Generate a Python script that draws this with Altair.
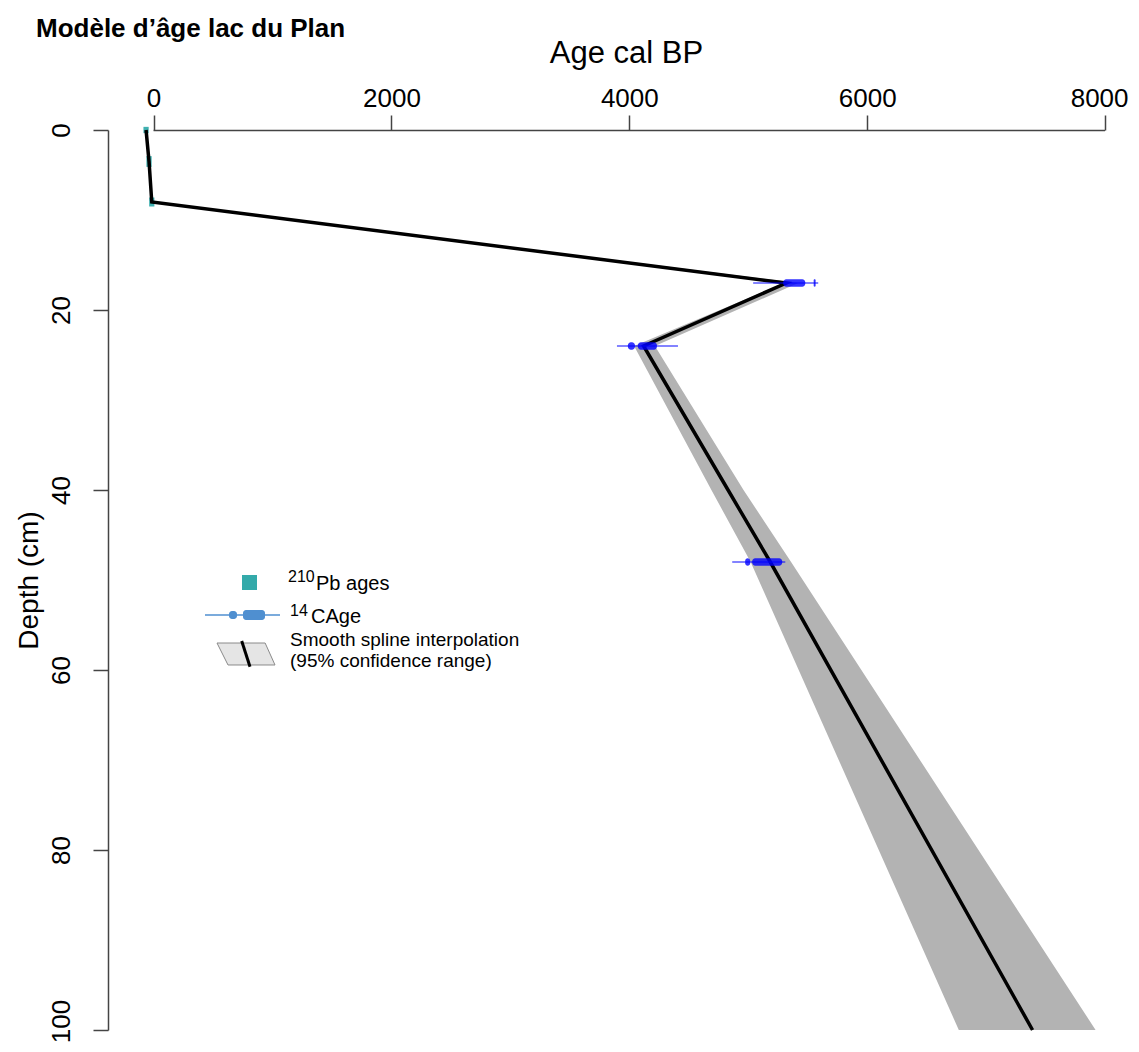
import altair as alt
import pandas as pd

title_text = "Modèle d’âge lac du Plan"
x_title = "Age cal BP"
y_title = "Depth (cm)"
x_ticks = [0, 2000, 4000, 6000, 8000]
y_ticks = [0, 20, 40, 60, 80, 100]

# smooth spline (depth cm, age cal BP) and 95% band
spl_depth = [0, 3.5, 8, 17, 24, 40, 48, 100]
spl_age = [-63, -38, -15, 5320, 4120, 4830, 5185, 7390]
spl_low = [-63, -38, -15, 5300, 4040, 4690, 5020, 6770]
spl_high = [-63, -38, -15, 5420, 4215, 4960, 5360, 7920]

# 210Pb ages
pb_depth = [0, 3.5, 8]
pb_age = [-63, -38, -15]
pb_dz = [0.35, 0.6, 0.5]
pb_dage = [22, 22, 22]

# 14C calibrated ages: 95% range and high probability segments
c14_depth = [17, 24, 48]
c14_min = [5041, 3896, 4865]
c14_max = [5588, 4409, 5311]
seg_depth = [17, 17, 24, 24, 48, 48]
seg_from = [5294, 5550, 3988, 4072, 4974, 5033]
seg_to = [5479, 5566, 4047, 4232, 5016, 5285]

legend_labels = ["210", "Pb ages", "14", "CAge",
                 "Smooth spline interpolation", "(95% confidence range)"]

FONT = "Liberation Sans"

spl = pd.DataFrame({"i": range(len(spl_depth)), "depth": spl_depth, "age": spl_age,
                    "low": spl_low, "high": spl_high})
pb = pd.DataFrame({"depth": pb_depth, "age": pb_age, "dz": pb_dz, "da": pb_dage})
pb["y1"] = pb["depth"] - pb["dz"]
pb["y2"] = pb["depth"] + pb["dz"]
pb["x1"] = pb["age"] - pb["da"]
pb["x2"] = pb["age"] + pb["da"]
c14 = pd.DataFrame({"depth": c14_depth, "lo": c14_min, "hi": c14_max})
seg = pd.DataFrame({"depth": seg_depth, "a": seg_from, "b": seg_to})
seg["y1"] = seg["depth"] - 0.42
seg["y2"] = seg["depth"] + 0.42

xscale = alt.Scale(domain=[-383, 8100], nice=False, zero=False)
yscale = alt.Scale(domain=[0, 100], nice=False, zero=False, reverse=True)

xaxis = alt.Axis(orient="top", values=x_ticks, domain=False, grid=False,
                 tickSize=15, tickColor="#444", tickWidth=1.5,
                 labelFont=FONT, labelFontSize=26, labelColor="black",
                 labelPadding=4, labelFlush=False, format="d",
                 labelOffset={"condition": {"test": f"datum.value === {x_ticks[-1]}",
                                            "value": -6}, "value": 0},
                 title=x_title, titleFont=FONT, titleFontSize=31,
                 titleFontWeight="normal", titleColor="black",
                 titleX=518, titleY=-68, titleBaseline="alphabetic",
                 titleAlign="center", titleAngle=0)
yaxis = alt.Axis(orient="left", values=y_ticks, domain=True, grid=False,
                 domainColor="#444", domainWidth=1.5,
                 tickSize=15, tickColor="#444", tickWidth=1.5,
                 labelFont=FONT, labelFontSize=26, labelColor="black",
                 labelAngle=270, labelAlign="center", labelBaseline="bottom",
                 labelPadding=19, labelFlush=False,
                 labelOffset={"condition": {"test": f"datum.value === {y_ticks[-1]}",
                                            "value": -9}, "value": 0},
                 title=y_title, titleFont=FONT, titleFontSize=28,
                 titleFontWeight="normal", titleColor="black",
                 titleX=-71, titleY=450, titleAngle=270,
                 titleBaseline="alphabetic", titleAlign="center")


def X(field):
    return alt.X(field, scale=xscale, axis=xaxis)


def Y(field):
    return alt.Y(field, scale=yscale, axis=yaxis)


band = alt.Chart(spl).mark_area(orient="horizontal", color="#b3b3b3").encode(
    y=Y("depth:Q"), x=X("low:Q"), x2="high:Q",
)

pb_marks = alt.Chart(pb).mark_rect(color="#2aa7a7", opacity=0.9).encode(
    x=X("x1:Q"), x2="x2:Q", y=Y("y1:Q"), y2="y2:Q",
)

line = alt.Chart(spl).mark_line(color="black", strokeWidth=3.5).encode(
    x=X("age:Q"), y=Y("depth:Q"), order=alt.Order("i:Q"),
)

c14_rule = alt.Chart(c14).mark_rule(color="#0000ff", opacity=0.65, strokeWidth=1.6).encode(
    x=X("lo:Q"), x2="hi:Q", y=Y("depth:Q"),
)
c14_seg = alt.Chart(seg).mark_rect(color="#0000ff", opacity=0.8, cornerRadius=3).encode(
    x=X("a:Q"), x2="b:Q", y=Y("y1:Q"), y2="y2:Q",
)

axis_line = alt.Chart(pd.DataFrame({"a": [x_ticks[0]], "b": [x_ticks[-1]]})).mark_rule(
    color="#444", strokeWidth=1.5).encode(
    x=X("a:Q"), x2="b:Q", y=alt.value(0.5))


def txt(label, x, y, size=20, weight="normal"):
    return alt.Chart(pd.DataFrame({"t": [label]})).mark_text(
        align="left", baseline="alphabetic", font=FONT, fontSize=size,
        fontWeight=weight, color="black").encode(
        text="t:N", x=alt.value(x), y=alt.value(y))


dummy = pd.DataFrame({"k": [0]})
title = txt(title_text, -72, -93, size=26, weight="bold")

leg_sq = alt.Chart(dummy).mark_square(size=225, color="#33aaaa", opacity=1).encode(
    x=alt.value(141.5), y=alt.value(452.5))
leg_l1a = txt(legend_labels[0], 180, 452, size=16)
leg_l1b = txt(legend_labels[1], 208, 460)

leg_c_line = alt.Chart(dummy).mark_rule(color="#4f8fd0", strokeWidth=1.6).encode(
    x=alt.value(97), x2=alt.value(172), y=alt.value(485))
leg_c_b1 = alt.Chart(dummy).mark_rect(color="#4f8fd0", cornerRadius=3).encode(
    x=alt.value(121), x2=alt.value(129), y=alt.value(481), y2=alt.value(489))
leg_c_b2 = alt.Chart(dummy).mark_rect(color="#4f8fd0", cornerRadius=3).encode(
    x=alt.value(135), x2=alt.value(157), y=alt.value(480), y2=alt.value(490))
leg_l2a = txt(legend_labels[2], 182, 486, size=16)
leg_l2b = txt(legend_labels[3], 203, 493)

leg_para = alt.Chart(dummy).mark_point(
    shape="M-1,-0.379L0.66,-0.379L1,0.379L-0.62,0.379Z", size=3364,
    filled=True, fill="#e5e5e5", stroke="#8a8a8a", strokeWidth=1, opacity=1).encode(
    x=alt.value(138), y=alt.value(524))
leg_slash = alt.Chart(dummy).mark_rule(color="black", strokeWidth=3).encode(
    x=alt.value(133.7), x2=alt.value(142), y=alt.value(511), y2=alt.value(536.7))
leg_l3a = txt(legend_labels[4], 182, 516, size=19)
leg_l3b = txt(legend_labels[5], 182, 537, size=19)

chart = alt.layer(
    band, pb_marks, line, c14_rule, c14_seg, axis_line, title,
    leg_sq, leg_l1a, leg_l1b, leg_c_line, leg_c_b1, leg_c_b2, leg_l2a, leg_l2b,
    leg_para, leg_slash, leg_l3a, leg_l3b,
).properties(
    width=1009, height=900,
    padding={"left": 100, "top": 122, "right": 14, "bottom": 14},
    autosize=alt.AutoSizeParams(type="none"),
).configure_view(stroke=None)

chart.save("out.html", embed_options={"renderer": "svg", "actions": False})
